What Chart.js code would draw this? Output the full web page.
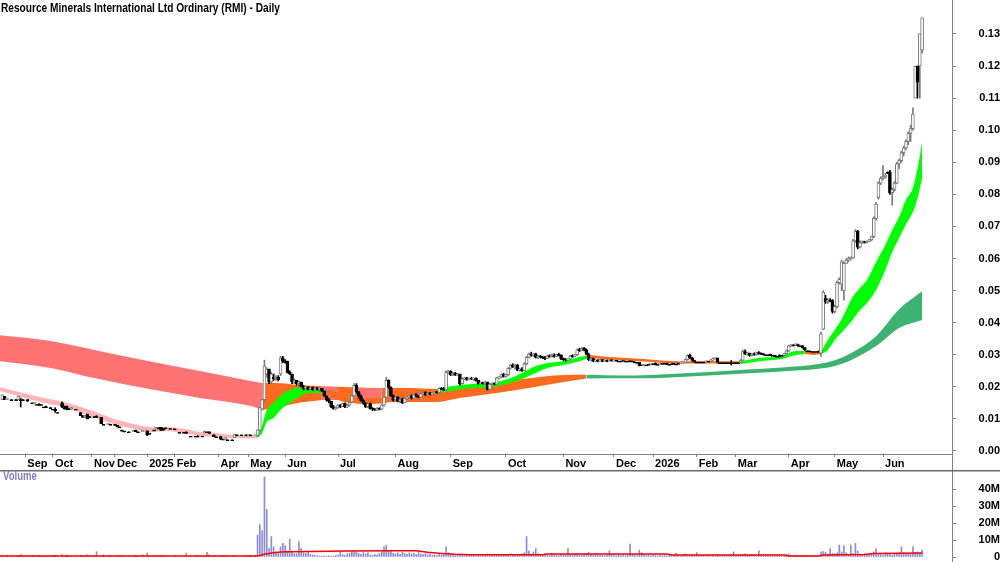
<!DOCTYPE html>
<html>
<head>
<meta charset="utf-8">
<script src="https://cdn.jsdelivr.net/npm/chart.js@4.4.1/dist/chart.umd.min.js"></script>
<style>
  body { margin: 0; background: #fff; width: 1000px; height: 562px; overflow: hidden; position: relative; }
  #priceBox { position: absolute; left: 0; top: 0; width: 1000px; height: 470px; }
  #volBox { position: absolute; left: 0; top: 470px; width: 1000px; height: 92px; }
  .lbl { position: absolute; font-family: 'Liberation Sans', Arial, sans-serif; font-weight: bold; white-space: nowrap; transform-origin: 0 0; }
  #title { left: 1px; top: 0; color: #000; font-size: 13px; line-height: 15px; transform: scaleX(0.78); }
  #volTitle { left: 3px; top: 469px; color: #7f7fbf; font-size: 12px; line-height: 14px; transform: scaleX(0.8); }
</style>
</head>
<body>
<div id="priceBox"><canvas id="priceChart"></canvas></div>
<div id="volBox"><canvas id="volChart"></canvas></div>
<div id="title" class="lbl">Resource Minerals International Ltd Ordinary (RMI) - Daily</div>
<div id="volTitle" class="lbl">Volume</div>
<script>
// prices are in tenths of a cent (16 = $0.016), volumes in millions
// x = trading day index, null = no trade that day

const monthTicks = [11, 23, 40, 50, 64, 76, 95, 108, 124, 147, 172, 196, 220, 245, 267, 284, 303, 320, 343, 363, 384];
const monthLabels = ['Sep', 'Oct', 'Nov', 'Dec', '2025', 'Feb', 'Apr', 'May', 'Jun', 'Jul', 'Aug', 'Sep', 'Oct', 'Nov', 'Dec', '2026', 'Feb', 'Mar', 'Apr', 'May', 'Jun'];
const priceTicks = [0, 10, 20, 30, 40, 50, 60, 70, 80, 90, 100, 110, 120, 130];
const volTicks = [0, 5, 10, 15, 20, 25, 30, 35, 40];
const volTickLabels = ['0', '', '10M', '', '20M', '', '30M', '', '40M'];

// [open, high, low, close]
const ohlc = [
  null,
  [16,17.5,16,17.5],[17,17,16,16],[16,16.5,16,16.5],null,[16,16,16,16],null,[16,16,16,16],[16,17,16,17],[16,16.5,13.7,16],
  [16,16,16,16],null,[16,16,15.5,15.5],null,[15,15,15,15],[14.7,15.2,14.7,15.2],[14.5,14.5,14.5,14.5],[14.5,14.8,14.3,14.5],[14.5,14.5,14.5,14.5],[13.7,13.7,13.7,13.7],
  [13.7,14,13.5,13.5],null,[13.5,13.5,13.5,13.5],[13,13,13,13],[13,13.5,12,12.5],[12,12,12,12],null,[15,15.3,13.5,13.7],[13.5,14,13,13.5],[14,14,12.8,13],
  [13.2,13.2,13.2,13.2],[13,13.5,13,13.5],null,[13,13,13,13],null,[12,12,11,11],[11,11,10.5,10.5],[10.5,11,10.5,11],[11.5,11.5,10,10],[10.7,10.7,10.7,10.7],
  null,[10.7,10.7,10.7,10.7],[10.7,11,10.5,10.7],null,[10.5,10.5,8.5,8.5],[8.3,8.3,8.3,8.3],null,[8.3,8.6,8.3,8.6],[8.3,8.3,8.3,8.3],null,
  [8.3,8.3,8,8],[8,8,7.5,7.5],[7.5,7.5,7.5,7.5],[6.5,6.5,6.2,6.2],[6.2,6.2,6.2,6.2],null,[6,6,6,6],null,[6,6.5,6,6.5],[6.5,6.5,6,6],
  [6,6,6,6],null,[6,6.4,6,6.4],null,[6.3,6.3,4.8,5],[5.5,5.5,5.5,5.5],null,[6.5,6.5,6.5,6.5],[6.8,7.4,6.8,7.4],[7.2,7.2,7.2,7.2],
  [7.4,7.4,6.4,6.4],[7,7,6.5,6.5],[7.2,7.2,7.2,7.2],null,[7,7,7,7],null,[6.9,6.9,6.9,6.9],null,[5.8,5.8,5.8,5.8],null,
  [5.8,5.8,5.8,5.8],[5.8,6,5.6,5.8],null,[4.6,4.6,4.6,4.6],null,[4.6,4.6,4.6,4.6],[4.6,4.8,4.4,4.6],null,[4.6,4.6,4.6,4.6],[5.6,6.2,5.6,6.2],
  [6,6,6,6],[6,6,5.5,5.5],null,[5,5,4.5,4.5],[4.4,4.4,4.4,4.4],null,[4.5,4.5,3.5,3.7],[3.7,3.7,3.7,3.7],[3.5,4.2,3.5,4.2],[3.5,3.5,3.5,3.5],
  null,[3.5,3.5,3.5,3.5],[4.2,5.2,4.2,5.2],[5,5,5,5],null,[5,5,5,5],null,[5,5,5,5],[4.7,5.2,4.7,5.2],[5,5,5,5],
  null,[4.8,5,4.8,5],[4.8,6.6,4.5,6.6],[6.5,13.7,6.2,13.5],[13,16,12.8,16],[16,28.3,15.5,26.5],[24,26,23,25.5],[25.5,25.5,21,21.5],[21.5,24.5,21,24],[23,24,22,22.5],
  [22.5,23.5,22,23],[23,23.5,21.8,22.2],[24,29.5,23.5,29],[29,29.5,27.5,28],[28,28.5,27.4,28],[28,28,24.3,24.5],[24.5,25,23.8,24],[24,24,21,21.5],[21.5,22.5,21,22],[22,22,20.5,21],
  [21,21.8,20.5,21.5],[21.5,21.5,20,20],[20,20.5,19,19.5],[19.5,20,19,20],[20,20,19,19.2],[19.2,20,19,19.8],[19.8,20,18.8,19],[19,19.8,18.8,19.6],[19.6,19.8,19,19.2],[19.2,19.5,18.5,19.5],
  [19.5,19.5,18.5,18.7],[18.7,18.7,17,17.2],[17.2,17.2,15.5,16],[16,16.5,15,15.5],[15.5,15.5,13.5,13.8],[13.8,14.2,13,13.2],[13.2,13.8,12.8,13.5],[13.5,14.5,13.3,14.3],[14.3,14.5,13.5,13.8],[13.8,15,13.8,14.8],
  [14.8,15,13.5,13.7],[13.7,14.5,13.5,14.3],[14.3,15.5,14,15.2],[15.2,17.5,15,17.2],[17.2,21,17,20.5],[20.5,21,18,18.5],[18.5,18.5,16.5,17],[17,17.5,15.5,15.8],[15.8,16,14.5,15],[15,15,13.5,13.8],
  [13.8,15,13.5,14.8],[14.8,15,13,13.2],[13.2,13.5,12.6,13],[13,13.2,12.6,12.8],[12.8,13.5,12.6,13.3],[13.3,13.5,12.8,13],[13,14.5,12.8,14.3],[14.3,17,14,16.8],[16.8,23,16.5,22],[22,22.2,19.5,19.8],
  [19.8,20,17,17.2],[17.2,17.5,15.5,16],[16,17,15.5,16.8],[16.8,17,15.3,15.5],[15.5,16.5,15,16.2],[16.2,16.5,14.8,15],[15,16.5,15,16.3],[16.3,17,16,16.8],[16.8,17.5,16.5,17.2],[17.2,17.5,16.2,16.5],
  [16.5,17.8,16.5,17.6],[17.6,18,16.8,17],[17,17.2,16.5,16.8],[16.8,18,16.8,17.8],[17.8,18.5,17.5,18.2],[18.2,18.5,17.3,17.5],[17.5,18.2,17.2,18],[18,18.3,17.5,17.8],[17.8,18.2,17.6,18],[18,18.5,17.8,18.3],
  [18.3,18.5,18,18.2],[18.2,19.7,18,19.5],[19.5,19.8,19.2,19.5],[19.5,19.8,18.8,19],[19,25,18.8,24.5],[24.5,25.2,24,24.8],[24.8,25,23.5,23.8],[23.8,24.5,23.5,24.2],[24.2,24.5,23.5,23.7],[23.7,24.2,23.5,24],
  [24,24,20.5,21],[21,22.8,20.8,22.5],[22.5,23,22.2,22.8],[22.8,23,22,22.3],[22.3,22.8,22.3,22.6],[22.6,23,22.2,22.4],[22.4,22.8,22,22.7],[22.7,22.8,21.8,22],[22,22,20.8,21],[21,21.5,20.8,21.3],
  [21.3,21.5,20.8,21],[21,21.8,20.8,21.5],[21.5,21.5,19,19.2],[19.2,21,19,20.8],[20.8,21.2,20.5,21],[21,21.2,20.6,20.8],[20.8,23,20.8,22.8],[22.8,23.2,22.5,23],[23,24,22.8,23.8],[23.8,24.2,23,23.2],
  [23.2,24,23,23.8],[23.8,26,23.5,25.8],[25.8,27,25.5,26.8],[26.8,27.2,26,26.2],[26.2,27,25.5,26.8],[26.8,27,25,25.2],[25.2,25.8,24.8,25.5],[25.5,26,24.8,25],[25,27.5,25,27.2],[27.2,29.5,27,29.2],
  [29.2,30.5,29,30.2],[30.2,30.8,29.5,29.8],[29.8,30.5,29.5,30.3],[30.3,30.5,29,29.2],[29.2,29.8,28.8,29.5],[29.5,29.8,29,29.3],[29.3,29.5,28.8,29],[29,29.5,28.5,28.8],[28.8,29.8,28.8,29.6],[29.6,30,29.2,29.4],
  [29.4,30.2,29.3,30],[30,30.3,29.2,29.4],[29.4,30.2,29.4,30],[30,30.5,29.6,29.8],[29.8,30,28.5,28.7],[28.7,29,28.2,28.5],[28.5,28.8,28,28.3],[28.3,28.8,28.2,28.6],[28.6,29.8,28.5,29.6],[29.6,30,29.2,29.5],
  [29.5,30.2,29.4,30],[30,31.8,29.8,31.5],[31.5,32,31,31.3],[31.3,32.2,31.2,32],[32,32.3,31.2,31.5],[31.5,31.8,30,30.2],[30.2,30.5,28.2,28.5],[28.5,29,28,28.8],[28.8,29,27.8,28],[28,28.5,27.8,28.3],
  [28.3,28.5,27.8,28],[28,28.6,28,28.5],[28.5,28.5,27.8,27.9],[27.9,28.4,27.9,28.3],[28.3,28.4,27.8,28],[28,28.5,28,28.4],[28.4,28.5,28,28.1],[28.1,28.3,27.9,28.2],[28.2,28.2,28,28],[28,28,28,28],
  [28,28,28,28],[28.2,28.2,28.2,28.2],[28,28,28,28],[28,28,28,28],[28.1,28.1,28.1,28.1],[28,28,28,28],[27.8,27.8,27.8,27.8],[27.6,27.6,27.6,27.6],[27.6,27.6,26.5,26.7],[26.8,26.8,26.8,26.8],
  [26.6,27,26.5,27],[26.8,26.8,26.8,26.8],[27,27,27,27],[27,27.3,26.8,27.2],[27.2,27.2,27.2,27.2],[27.2,27.5,26.8,27],[27,27,27,27],[27,27.4,27,27.3],[27.3,27.3,27.3,27.3],[27.3,27.3,27.3,27.3],
  [27.3,27.4,26.9,27],[27,27,27,27],[27.2,27.2,27.2,27.2],[27.2,27.3,27,27.1],[27.1,27.1,27.1,27.1],[27.3,27.3,27.3,27.3],[27.3,27.6,27.2,27.5],[27.5,27.8,27.3,27.6],[27.6,28.7,27.5,28.5],[28.5,30,28.3,29.8],
  [29.8,30.2,28.8,29],[29,29.2,28,28.2],[28.2,28.3,27.6,27.8],[27.7,27.7,27.7,27.7],[27.7,27.7,27.7,27.7],[27.7,27.7,27.7,27.7],[27.7,27.7,27.7,27.7],[27.8,28,27.7,27.9],[28,28,28,28],[28,28.5,27.8,28.3],
  [28.3,29,28,28.8],[28.8,29,28.6,28.9],[28.9,29,27.5,27.7],[27.5,27.5,27.5,27.5],[27.5,27.5,27.5,27.5],[27.5,27.5,27.5,27.5],[27.5,27.5,27.5,27.5],[27.5,27.5,27.5,27.5],[27.5,28.2,26.8,27.5],[27.5,27.5,27.5,27.5],
  [27.5,27.5,27.5,27.5],[27.5,27.5,27.5,27.5],[27.6,28.5,27.5,28.2],[28.2,31.5,28,31],[31,31.5,30,30.3],[30.3,30.8,29.8,30.5],[30.5,30.5,29.5,29.8],[29.8,30.4,29.6,30.2],[30.2,30.6,29.8,30],[30,30.8,29.8,30.6],
  [30.6,31,30.2,30.4],[30.4,30.6,30,30.2],[30.2,30.4,29.9,30],[30,30,30,30],[30,30,30,30],[30,30.2,29.7,29.8],[29.8,29.8,29.8,29.8],[29.8,29.8,29.4,29.5],[29.5,29.5,29.5,29.5],[29.9,30,29.3,29.5],
  [29.8,29.8,29.8,29.8],[29.8,30.5,29.6,30.3],[30.3,31.5,30.2,31.2],[31.2,33,31,32.8],[32.8,33.2,32.5,33],[33,33.2,32.8,33],[33,33.5,32.8,33.2],[33.2,33.3,32.6,32.8],[32.8,32.8,32.8,32.8],[32.8,32.9,32,32.2],
  [32.2,32.2,31.3,31.5],[31.2,31.2,31.2,31.2],[31.2,31.2,31.2,31.2],[31,31,31,31],[31,31,31,31],[31,31,31,31],[31,31.2,30.8,31],[30.5,37,29.5,36.5],[38,50,37.8,49.5],[47.5,48.5,46,46.5],
  [46.5,47.5,46,47],[47,47.5,46.5,47],[47,47.2,43,43.5],[43.5,45.5,43,45],[45,53,44.5,52.5],[52.5,54,52,53.5],[52,59.5,50,59],[50,59,47,58.5],[58.5,60,58.5,59.5],[59.5,60.5,59,60],
  [60,60.5,59.5,60.2],[60.2,66,60,65.5],[65.5,69,65,68.5],[68.5,68.8,63,63.5],[63.5,65.5,63.3,65],[65,65.5,64.6,65.2],[65.2,65.4,64.8,65],[65,65.5,64.8,65.3],[65.3,66,65.2,65.8],[65.8,67,65.6,66.8],
  [66.8,73,66.5,72.5],[72.5,77.5,72,77],[79,84,78.5,83.5],[83.5,85.5,83,85],[85,89,84.5,85.5],[85.5,86.5,85,86],[86.8,87,86.4,86.6],[87,87.5,80,80.5],[80.5,82,76.6,81.5],[81.5,84,81,83.5],
  [83.5,90,83.3,89.5],[89.5,91,88,90.5],[90.5,93.5,90,93],[93,95,92,94.5],[94.5,97,94,96.5],[96.5,99.5,95.5,99],[99,101.5,96.5,100.5],[100.5,107,100,105],[110,120,110,120],[120,120,110,115],
  [120,130,110,130],[125,135,124,135]
];

const volumes = [
  null,
  0.8,0.5,1.2,null,0.6,null,0.5,0.9,1.5,0.6,null,0.7,null,1.0,0.6,0.3,0.8,0.5,0.4,0.6,
  null,0.5,0.9,1.1,0.6,null,1.4,0.8,1.2,0.5,0.3,null,0.4,null,0.9,0.5,1.0,1.3,0.6,null,
  0.8,3.1,null,0.5,1.3,null,0.4,0.9,null,0.3,0.7,0.5,0.8,0.4,null,0.5,null,0.9,1.0,0.4,
  null,1.3,null,2.3,0.8,null,0.7,0.5,0.6,1.1,0.9,0.4,null,0.3,null,0.8,null,0.4,null,0.6,
  2.3,null,0.5,null,0.4,0.9,null,0.3,0.6,2.8,1.3,null,0.7,0.4,null,1.0,0.5,0.8,0.4,null,
  0.5,0.9,0.4,null,0.3,null,0.5,0.8,1.0,null,0.9,
  13,19,15.5,47,28,5,12,6,3,2,6,8,6.5,3.5,10.5,3.5,2,2,9,5,
  2.5,2,2.6,1.5,1.2,1,0.8,0.5,0.5,0.6,0.5,0.7,0.6,0.5,0.8,1.2,3,1.5,1,1.8,
  2.2,3,3.5,3,2,1.5,2.5,1.8,2.5,1.2,1,1.5,1.3,2,3,6,7,3.5,4,2.2,
  1.8,2.5,1.5,2.8,2,1.6,2.4,1.8,2.2,1.5,2.6,1.8,1.4,2,1.2,1.6,1,1.3,0.9,1.5,
  1.2,1.8,6,2.5,1.5,1.2,1,1.4,1.8,1.2,0.9,1.1,0.8,1.3,1,0.7,1.2,0.9,1.5,1,
  1.8,1.2,0.8,1,1.5,1.1,0.9,1.3,1.6,1.2,2,1.5,1.1,1.4,1,1.8,2.5,12,3.5,1.8,
  3,5,2,1.5,1.2,1.8,1.4,1,2.3,1.5,1.2,0.9,1.6,1.3,1,5,1.5,1.2,1.8,2,
  1.4,1,1.6,2.2,2.8,1.5,1.2,2.3,1.3,0.9,1.1,0.8,1.4,3.6,1.2,1,0.8,1.1,0.9,1.3,
  0.8,1.2,7.6,1.5,1,0.9,4,2.5,1.2,0.8,1,0.7,1.1,0.9,0.6,1,0.8,1.2,0.7,0.9,
  1.1,0.8,2.3,1,0.7,1.3,1.8,1.5,1,0.8,0.9,2.6,1.1,0.7,0.9,0.6,1,0.8,1.2,0.9,
  1.5,0.8,0.7,1,0.6,0.9,1.2,3,0.8,1.1,0.9,1.4,1.8,1.2,1,1.5,1.3,1.1,3.6,1.4,
  1,0.8,1.2,0.9,0.7,1.1,0.8,1,0.6,0.9,1.5,1.8,1.2,0.8,1,0.7,0.9,0.6,0.8,0.7,
  0.5,0.6,0.8,0.5,0.9,3,3.2,2.8,1.5,5,2,1.8,2.5,7,3,6.5,2.5,1.5,7,2,
  8,3.5,1.8,1.2,2,1.5,1.8,2.2,3,5,2,1.5,1.2,2.5,1.8,1.5,1.2,2,1.8,2.5,
  6,2.5,1.8,2,1.6,6,2.5,3,2.2,4
];

// volume moving average: [day, value]
const volAverage = [
  [0,0.6],[111,0.6],[113,0.9],[115,1.6],[118,2.4],[122,2.9],[126,3.1],[135,3.2],[150,3.6],[170,3.7],
  [181,3.7],[186,2.8],[191,2.2],[198,1.6],[205,1.3],[236,1.3],[238,1.8],[290,1.8],[292,1.2],[341,1.2],
  [343,0.6],[356,0.6],[358,1.2],[376,1.5],[380,2.1],[401,2.3]
];

// ribbon edges: [day, top, bottom]
const longBand = [
  [0,36.1,28.0],[22,34.3,25.9],[43,31.2,22.4],[65,28.0,19.3],[87,24.9,16.5],[109,21.8,14.0],[114,21.2,12.8],
  [120,21.2,13.4],[130,20.6,15.0],[140,20.2,15.9],[147,20.0,15.9],[152,19.9,15.9],[154,19.9,15.8],[165,19.6,15.3],
  [166,19.6,15.3],[178,19.6,15.3],[190,19.3,15.3],
  [200,20.2,16.5],[216,21.2,18.1],[230,22.7,19.6],[245,23.7,21.5],[255,23.8,22.6],[270,23.5,22.7],[283,23.7,22.7],
  [300,24.3,23.2],[320,25.2,24.0],[340,26.0,24.8],[356,27.1,25.6],[363,28.3,26.5],[370,30.5,28.3],[381,35.8,32.7],
  [391,44.2,38.3],[401,49.8,40.8]
];
const shortBand = [
  [0,19.9,18.7],[14,17.4,15.9],[29,15.0,13.4],[43,11.8,10.0],[51,9.7,8.1],[58,8.4,6.9],[65,7.5,5.9],[73,7.5,6.2],
  [80,6.9,5.6],[87,5.9,4.7],[94,5.6,4.4],[101,5.0,4.0],[109,4.7,4.0],[112,4.7,4.0],[114,8.1,5.6],[116,12.8,9.0],
  [119,15.0,10.3],[122,17.4,12.8],[126,19.0,15.0],[130,19.9,16.8],[134,19.9,18.1],[141,19.0,18.1],[147,18.4,15.9],
  [152,17.1,15.0],[160,16.5,14.6],[168,16.8,15.0],[176,18.1,16.5],[184,18.7,17.1],[190,19.3,18.1],[196,20.2,18.7],
  [205,20.9,19.6],[213,21.2,19.9],[222,22.7,21.2],[227,24.3,22.4],[231,25.9,23.7],[238,27.4,25.9],[245,28.0,26.8],
  [252,29.3,28.0],[256,29.9,29.0],[265,29.3,28.5],[280,28.7,27.9],[295,28.0,27.3],[310,28.0,27.3],[322,28.0,27.1],
  [330,29.0,28.0],[340,29.6,28.7],[346,31.2,29.9],[350,31.2,30.2],[354,30.8,29.9],[357,30.8,30.2],[360,34.6,31.5],
  [363,37.7,34.6],[367,42.4,37.7],[370,47.1,40.2],[374,50.8,43.9],[377,53.3,46.1],[381,58.9,50.2],[385,64.2,56.4],
  [388,68.8,62.0],[391,72.9,66.4],[394,78.2,70.7],[397,82.0,74.5],[399,88.0,78.8],[401,96.3,85.0]
];
// trend phase of each ribbon stretch: [from, to, phase]
const longPhases = [[0, 114, 'fall'], [114, 140, 'mixed'], [140, 147, 'fall'], [147, 154, 'mixed'],
  [154, 166, 'fall'], [166, 255, 'mixed'], [255, 401, 'rise']];
const shortPhases = [[0, 112, 'fall'], [112, 141, 'rise'], [141, 190, 'mixed'], [190, 256, 'rise'],
  [256, 322, 'mixed'], [322, 350, 'rise'], [350, 357, 'mixed'], [357, 401, 'rise']];

const longColors = { fall: '#ff7373', mixed: '#ff6a1e', rise: '#3cb371' };
const shortColors = { fall: '#ffb5b5', mixed: '#ff6a1e', rise: '#00ff00' };

const FONT = { family: "'Liberation Sans', Arial, sans-serif", size: 11, weight: 'bold' };
const AXIS_GREY = '#808080';

function bandDatasets(samples, phases, colors, order) {
  const out = [];
  phases.forEach(([from, to, phase]) => {
    const pts = samples.filter(p => p[0] >= from && p[0] <= to);
    out.push({
      type: 'line', order: order, data: pts.map(p => ({ x: p[0], y: p[1] })),
      borderWidth: 0, pointRadius: 0, fill: false, cubicInterpolationMode: 'monotone'
    });
    out.push({
      type: 'line', order: order, data: pts.map(p => ({ x: p[0], y: p[2] })),
      borderWidth: 0, pointRadius: 0, fill: '-1', backgroundColor: colors[phase], cubicInterpolationMode: 'monotone'
    });
  });
  return out;
}

const candles = [];
ohlc.forEach((r, i) => { if (r) candles.push({ i: i, o: r[0], h: r[1], l: r[2], c: r[3] }); });
const isUp = candles.map(k => k.c > k.o);

const priceDatasets = []
  .concat(bandDatasets(longBand, longPhases, longColors, 3))
  .concat(bandDatasets(shortBand, shortPhases, shortColors, 2));

priceDatasets.push({
  type: 'bar', order: 1, grouped: false, barThickness: 1, borderWidth: 0,
  data: candles.map(k => ({ x: k.i, y: [k.l, k.h] })),
  backgroundColor: isUp.map(u => u ? '#7a7a7a' : '#000000')
});
priceDatasets.push({
  type: 'bar', order: 0, grouped: false, barThickness: 3, borderWidth: 1, minBarLength: 1, borderSkipped: false,
  data: candles.map(k => ({ x: k.i, y: [k.o, k.c] })),
  backgroundColor: isUp.map(u => u ? '#ffffff' : '#000000'),
  borderColor: isUp.map(u => u ? '#7a7a7a' : '#000000')
});

// keep the axis exactly where the reference has it: no label padding above or below
function fixRightAxis(s) {
  s.width = 48;
  s.paddingTop = 0;
  s.paddingBottom = 0;
}

// grey piece of the right axis that runs through the month label strip
const axisThrough = {
  id: 'axisThrough',
  afterDraw(chart) {
    const ctx = chart.ctx, x = Math.round(chart.scales.y.left) + 0.5;
    ctx.save();
    ctx.strokeStyle = AXIS_GREY;
    ctx.lineWidth = 1;
    ctx.beginPath();
    ctx.moveTo(x, chart.chartArea.bottom);
    ctx.lineTo(x, chart.height);
    ctx.stroke();
    ctx.restore();
  }
};

new Chart(document.getElementById('priceChart'), {
  type: 'bar',
  data: { datasets: priceDatasets },
  options: {
    responsive: true, maintainAspectRatio: false, animation: false, events: [],
    layout: { padding: 0 },
    plugins: { legend: { display: false }, tooltip: { enabled: false }, title: { display: false } },
    scales: {
      x: {
        type: 'linear', min: 0, max: 414, offset: false,
        afterBuildTicks: s => { s.ticks = monthTicks.map(v => ({ value: v })); },
        afterFit: s => { s.height = 16; s.paddingLeft = 0; s.paddingRight = 0; },
        ticks: { autoSkip: false, maxRotation: 0, align: 'start', labelOffset: 2, padding: 0, color: '#000', font: FONT,
          callback: (v, i) => monthLabels[i] },
        grid: { drawOnChartArea: false, tickLength: 3, color: AXIS_GREY, offset: false },
        border: { color: AXIS_GREY }
      },
      y: {
        position: 'right', min: -0.94, max: 140.58,
        afterBuildTicks: s => { s.ticks = priceTicks.map(v => ({ value: v })); },
        afterFit: fixRightAxis,
        ticks: { color: '#000', font: FONT, padding: 19, crossAlign: 'far', callback: v => (v / 1000).toFixed(2) },
        grid: { drawOnChartArea: false, tickLength: 4, color: AXIS_GREY },
        border: { color: AXIS_GREY }
      }
    }
  },
  plugins: [axisThrough]
});

// full width rule along the top of the volume panel
const topRule = {
  id: 'topRule',
  afterDraw(chart) {
    const ctx = chart.ctx;
    ctx.save();
    ctx.strokeStyle = '#6a6a6a';
    ctx.lineWidth = 1.5;
    ctx.beginPath();
    ctx.moveTo(0, chart.chartArea.top + 0.75);
    ctx.lineTo(chart.width, chart.chartArea.top + 0.75);
    ctx.stroke();
    ctx.restore();
  }
};

new Chart(document.getElementById('volChart'), {
  type: 'bar',
  data: {
    datasets: [
      {
        type: 'line', order: 0, data: volAverage.map(p => ({ x: p[0], y: p[1] })),
        borderColor: '#ff0000', borderWidth: 1.5, pointRadius: 0, fill: false
      },
      {
        type: 'bar', order: 1, grouped: false, barThickness: 1, borderWidth: 0,
        data: volumes.map((v, i) => v === null ? null : { x: i, y: v }).filter(d => d),
        backgroundColor: '#8c8cd6'
      }
    ]
  },
  options: {
    responsive: true, maintainAspectRatio: false, animation: false, events: [],
    layout: { padding: 0 },
    plugins: { legend: { display: false }, tooltip: { enabled: false } },
    scales: {
      x: { type: 'linear', min: 0, max: 414, offset: false, display: false },
      y: {
        position: 'right', min: -2.94, max: 51.18,
        afterBuildTicks: s => { s.ticks = volTicks.map(v => ({ value: v })); },
        afterFit: fixRightAxis,
        ticks: { color: '#000', font: FONT, padding: 19, crossAlign: 'far', callback: (v, i) => volTickLabels[i] },
        grid: { drawOnChartArea: false, tickLength: 4, color: AXIS_GREY },
        border: { color: AXIS_GREY }
      }
    }
  },
  plugins: [topRule]
});
</script>
</body>
</html>
